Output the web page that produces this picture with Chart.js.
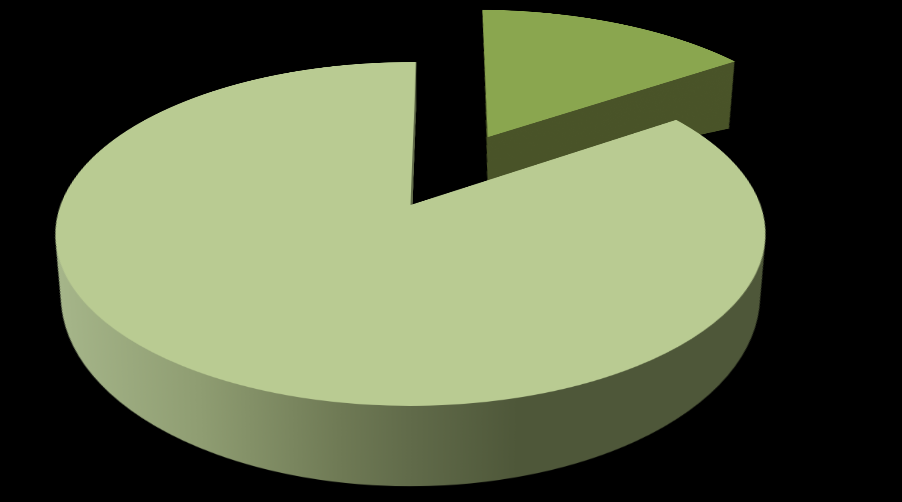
<!DOCTYPE html>
<html><head><meta charset="utf-8">
<style>
html,body{margin:0;padding:0;background:#000;width:902px;height:502px;overflow:hidden}
#stage{position:absolute;left:0;top:0;width:902px;height:502px;overflow:hidden;background:#000}
#c{position:absolute;left:-187px;top:-395px;width:1200px;height:1200px;transform-origin:600px 600px;transform:perspective(1825px) rotateX(61.5deg)}
</style>
<script src="https://cdn.jsdelivr.net/npm/chart.js@4"></script>
</head><body><div id="stage"><canvas id="c" width="1200" height="1200"></canvas></div>
<script>
const categories = ['Slice A', 'Slice B'];
const values = [15.3, 84.7];
const topColors = ['#8aa64f', '#b9cb92'];
const explode = [172, 0];
const sliceWallColor = '#4a5429';
const wallStopX = [-355, -210, -70, 0, 110];
const wallStopColors = ['#a6b68a', '#8f9d72', '#6f7a55', '#616b4a', '#4e5739'];
const K = 4.817e-4, LAYERS = 120;
const shiftX = [-2, -2.5];
const shiftY = [-1.5, 0];
const topScale = [1.02, 1];
const wallMap = [
  {ax: 0.90, ay: 0.615, bx: 4.2, by: 42.5},
  {ax: 0.929, ay: 0.986, bx: 0, by: 114}
];
function mainWallFill(ctx, cx, cy) {
  const a0 = Math.atan(-400 * K);
  const g = ctx.createConicGradient(-Math.PI / 2 + a0, cx, cy + 1 / K);
  wallStopX.forEach((x, i) => g.addColorStop((Math.atan(x * K) - a0) / (2 * Math.PI), wallStopColors[i]));
  return g;
}
const pie3d = {
  id: 'pie3d',
  beforeDatasetsDraw(chart) {
    const ctx = chart.ctx, arcs = chart.getDatasetMeta(0).data;
    const cx = arcs[0].x, cy = arcs[0].y;
    arcs.forEach((arc, i) => {
      const mid = (arc.startAngle + arc.endAngle) / 2;
      const ex = Math.cos(mid) * explode[i] + shiftX[i], ey = Math.sin(mid) * explode[i] + shiftY[i];
      const m = wallMap[i], ss = topScale[i];
      const base = arc.options;
      arc.options = Object.assign({}, base, {borderWidth: 0,
        backgroundColor: i === 0 ? sliceWallColor : mainWallFill(ctx, cx, cy)});
      for (let n = LAYERS; n >= 1; n--) {
        const t = n / LAYERS;
        ctx.save();
        ctx.translate(cx + t * m.bx, cy + t * m.by);
        ctx.scale(1 - t * (1 - m.ax), 1 - t * (1 - m.ay));
        ctx.translate(ex, ey);
        ctx.scale(ss, ss);
        ctx.translate(-cx, -cy);
        arc.draw(ctx);
        ctx.restore();
      }
      arc.options = base;
      ctx.save();
      ctx.translate(cx + ex, cy + ey);
      ctx.scale(ss, ss);
      ctx.translate(-cx, -cy);
      arc.draw(ctx);
      ctx.restore();
    });
    return false;
  }
};
new Chart(document.getElementById('c'), {
  type: 'pie',
  data: {labels: categories, datasets: [{data: values, backgroundColor: topColors, borderWidth: 0}]},
  options: {
    responsive: false, animation: false, devicePixelRatio: 2, radius: 350, rotation: 1,
    plugins: {legend: {display: false}, tooltip: {enabled: false}}
  },
  plugins: [pie3d]
});
</script></body></html>
